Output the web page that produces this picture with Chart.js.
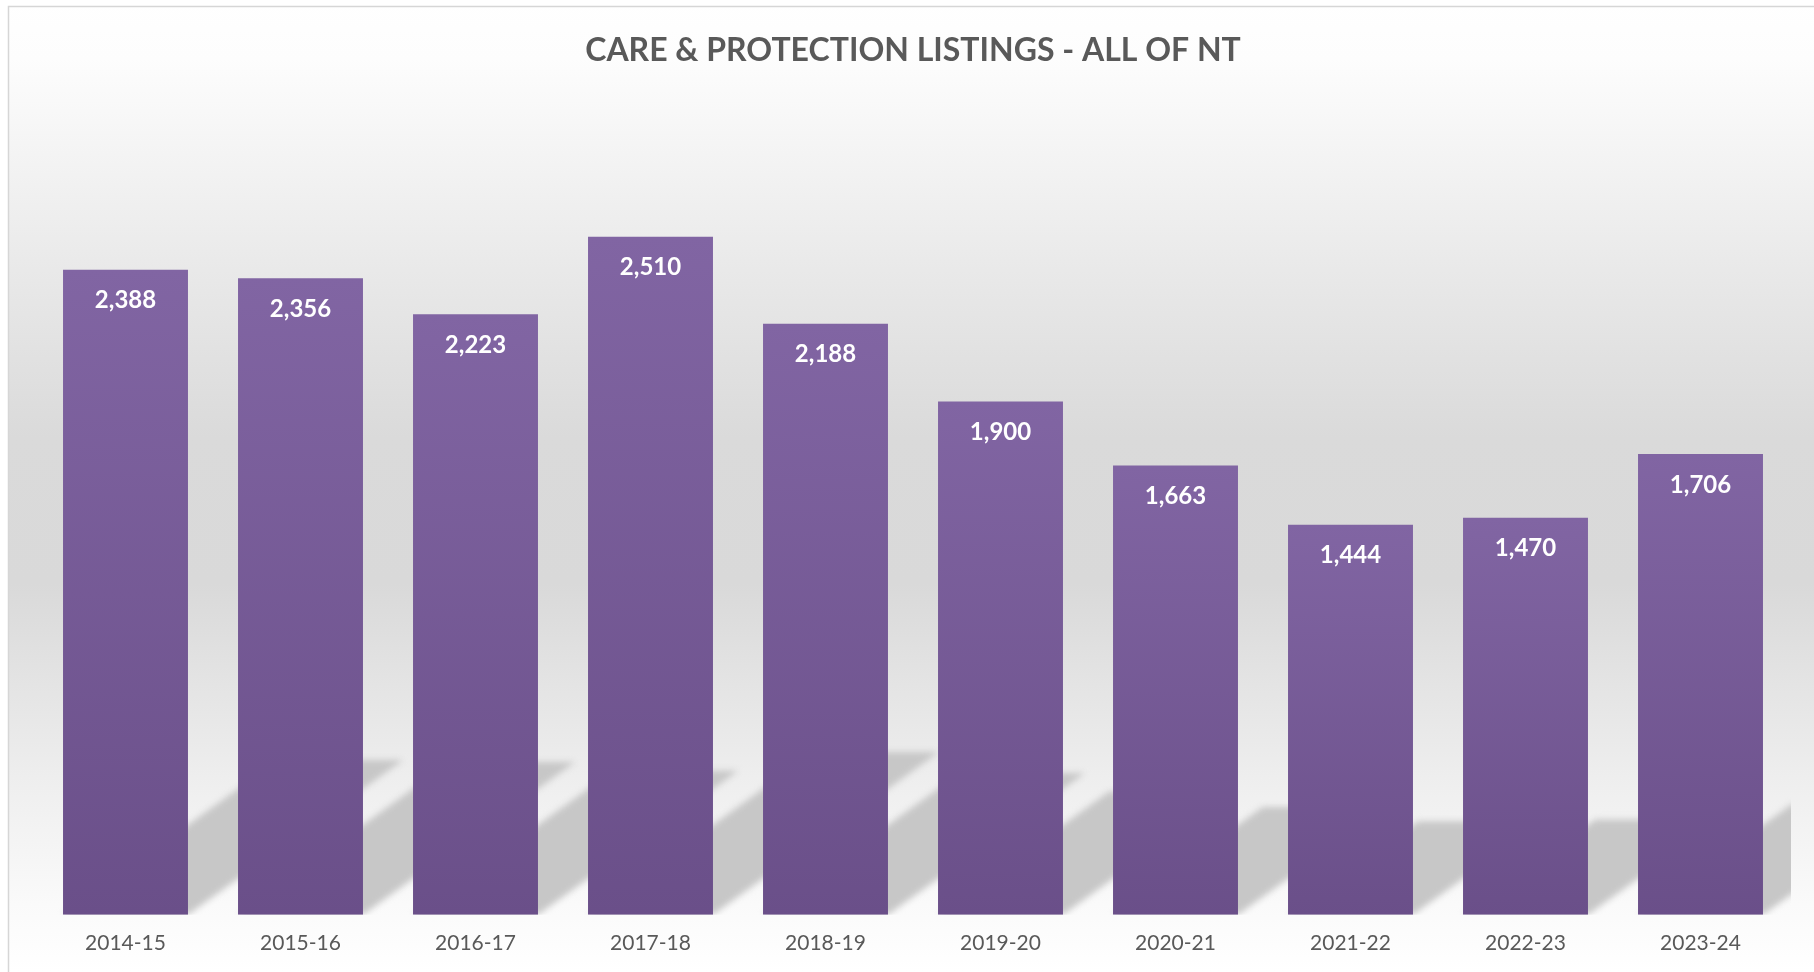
<!DOCTYPE html>
<html lang="en">
<head>
  <meta charset="UTF-8">
  <title>Care & Protection Listings - All of NT</title>
  <script src="https://cdn.jsdelivr.net/npm/chart.js"></script>
  <style>
    body { margin: 0; background: #fff; }
    canvas { display: block; }
  </style>
</head>
<body>
  <canvas id="listingsChart" width="1814" height="972"></canvas>

  <script>
    // financial years and number of listings
    const years = ["2014-15", "2015-16", "2016-17", "2017-18", "2018-19",
                   "2019-20", "2020-21", "2021-22", "2022-23", "2023-24"];
    const listings = [2388, 2356, 2223, 2510, 2188, 1900, 1663, 1444, 1470, 1706];
    const axisMax = 3000;

    const textFont = "Lato, 'Open Sans', sans-serif";

    // grey gradient behind the whole chart + thin border
    const backgroundPlugin = {
      id: "background",
      beforeDraw(chart) {
        const ctx = chart.ctx;
        const h = chart.height;
        const g = ctx.createLinearGradient(0, 0, 0, h);
        g.addColorStop(0, "#ffffff");
        g.addColorStop(0.06, "#fdfdfd");
        g.addColorStop(0.3, "#e7e7e7");
        g.addColorStop(0.45, "#dadada");
        g.addColorStop(0.6, "#d9d9d9");
        g.addColorStop(0.8, "#eeeeee");
        g.addColorStop(0.93, "#fafafa");
        g.addColorStop(1, "#ffffff");
        ctx.save();
        ctx.fillStyle = "#ffffff";
        ctx.fillRect(0, 0, chart.width, h);
        ctx.fillStyle = g;
        ctx.fillRect(8, 6, chart.width, h);
        ctx.strokeStyle = "#d6d6d6";
        ctx.lineWidth = 1.5;
        ctx.strokeRect(8.5, 6.5, chart.width + 10, h + 10);
        ctx.restore();
      }
    };

    // slanted soft shadow cast behind every bar
    const shadowPlugin = {
      id: "barShadows",
      beforeDatasetsDraw(chart) {
        const ctx = chart.ctx;
        const area = chart.chartArea;
        const bars = chart.getDatasetMeta(0).data;
        ctx.save();
        ctx.beginPath();
        ctx.rect(area.left, area.top, area.right - area.left + 3, area.bottom - area.top);
        ctx.clip();
        ctx.filter = "blur(3px)";
        ctx.fillStyle = "#c7c7c7";
        bars.forEach(bar => {
          const x0 = bar.x - bar.width / 2;
          const x1 = bar.x + bar.width / 2;
          const h = (bar.base - bar.y) * 0.24;
          const shift = h / 0.72;
          ctx.beginPath();
          ctx.moveTo(x0, bar.base);
          ctx.lineTo(x1, bar.base);
          ctx.lineTo(x1 + shift, bar.base - h);
          ctx.lineTo(x0 + shift, bar.base - h);
          ctx.closePath();
          ctx.fill();
        });
        ctx.restore();
      }
    };

    // value labels inside the top of each bar
    const labelPlugin = {
      id: "barLabels",
      afterDatasetsDraw(chart) {
        const ctx = chart.ctx;
        const bars = chart.getDatasetMeta(0).data;
        ctx.save();
        ctx.fillStyle = "#ffffff";
        ctx.font = "bold 24px " + textFont;
        ctx.textAlign = "center";
        ctx.textBaseline = "middle";
        bars.forEach((bar, i) => {
          ctx.fillText(listings[i].toLocaleString("en-US"), bar.x, bar.y + 31);
        });
        ctx.restore();
      }
    };

    function barGradient(context) {
      const chart = context.chart;
      const y = chart.scales.y;
      if (!y || context.dataIndex === undefined) return "#765a96";
      const top = y.getPixelForValue(listings[context.dataIndex]);
      const bottom = y.getPixelForValue(0);
      if (!isFinite(top) || !isFinite(bottom) || top === bottom) return "#765a96";
      const g = chart.ctx.createLinearGradient(0, top, 0, bottom);
      g.addColorStop(0, "#8165a3");
      g.addColorStop(1, "#6a4f89");
      return g;
    }

    new Chart(document.getElementById("listingsChart"), {
      type: "bar",
      data: {
        labels: years,
        datasets: [{
          label: "Listings",
          data: listings,
          backgroundColor: barGradient,
          borderWidth: 0,
          categoryPercentage: 1,
          barPercentage: 0.714
        }]
      },
      plugins: [backgroundPlugin, shadowPlugin, labelPlugin],
      options: {
        responsive: false,
        animation: false,
        layout: { padding: { left: 38, right: 26, top: 0, bottom: 0 } },
        plugins: {
          legend: { display: false },
          tooltip: { enabled: false },
          title: {
            display: true,
            text: "CARE & PROTECTION LISTINGS - ALL OF NT",
            color: "#595959",
            font: { family: textFont, size: 32, weight: "bold" },
            padding: { top: 31, bottom: 35 }
          }
        },
        scales: {
          x: {
            grid: { display: false, drawTicks: false },
            border: { display: false },
            ticks: {
              color: "#595959",
              font: { family: textFont, size: 21 },
              padding: 16
            }
          },
          y: {
            display: false,
            min: 0,
            max: axisMax
          }
        }
      }
    });
  </script>
</body>
</html>
